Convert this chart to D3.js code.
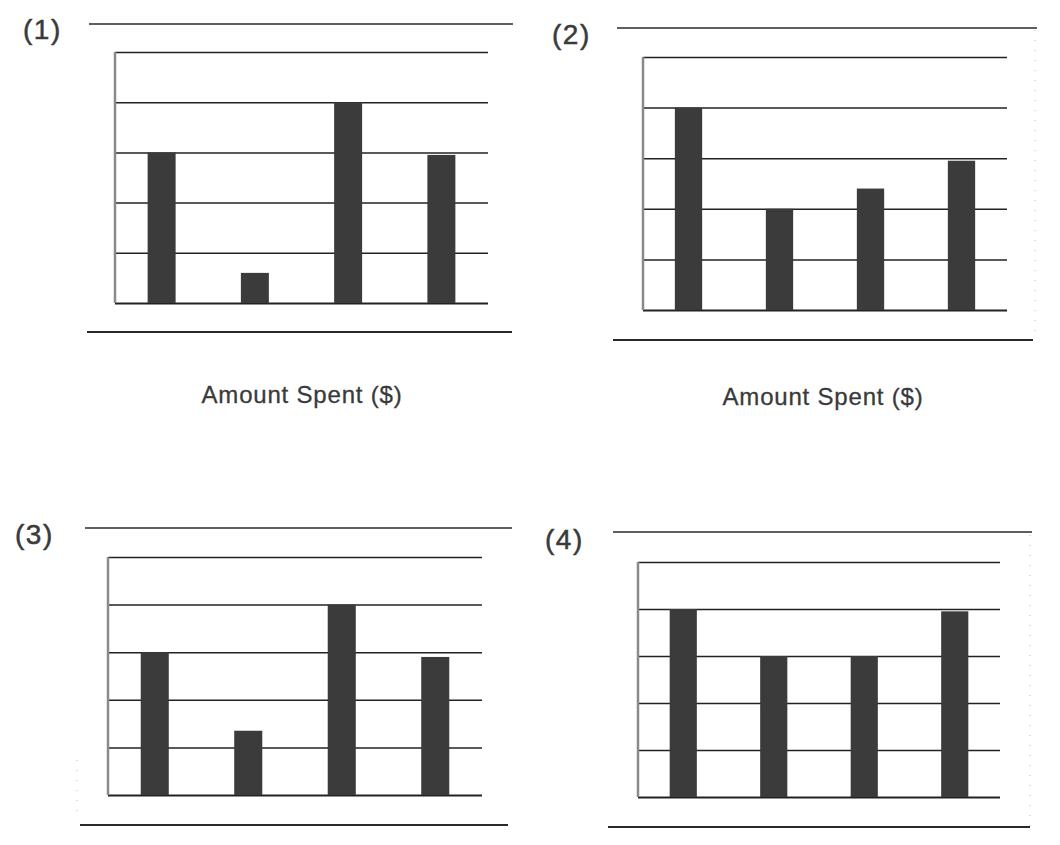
<!DOCTYPE html>
<html>
<head>
<meta charset="utf-8">
<script src="https://cdn.jsdelivr.net/npm/d3@7"></script>
<style>
  html, body { margin: 0; padding: 0; background: #fff; }
  svg { display: block; }
</style>
</head>
<body>
<svg id="chart"></svg>
<script>
const categories = ['A', 'B', 'C', 'D'];
const values1 = [3, 0.6, 4, 2.95];
const values2 = [4, 2, 2.4, 2.95];
const values3 = [3, 1.35, 4, 2.9];
const values4 = [4, 3, 3, 3.95];
const yTicks = [0, 1, 2, 3, 4, 5];
const panelLabels = ['(1)', '(2)', '(3)', '(4)'];
const axisTitle = 'Amount Spent ($)';

const W = 1060, H = 845;
const svg = d3.select('#chart').attr('width', W).attr('height', H);

// where each panel sits on the page
const layout = [
  { values: values1, label: [23, 39], top: [89, 513, 24], box: [115, 52, 488, 303], bottom: [87, 512, 332], title: [302, 403] },
  { values: values2, label: [552, 44], top: [617, 1037, 28], box: [643, 57, 1007, 310], bottom: [613, 1033, 340], title: [823, 405], edge: [1035, 30, 340] },
  { values: values3, label: [15, 544], top: [85, 512, 528], box: [108, 557, 482, 795], bottom: [80, 508, 825], edge: [77, 760, 820] },
  { values: values4, label: [545, 549], top: [613, 1032, 532], box: [638, 562, 1000, 797], bottom: [608, 1030, 827], edge: [1030, 535, 830] }
];

layout.forEach((p, i) => {
  const g = svg.append('g');
  const [x0, y0, x1, y1] = p.box;

  const x = d3.scaleBand()
    .domain(categories)
    .range([x0, x1])
    .paddingInner(0.7)
    .paddingOuter(0.35);

  const y = d3.scaleLinear()
    .domain([0, 5])
    .range([y1, y0]);

  g.append('text')
    .attr('x', p.label[0])
    .attr('y', p.label[1])
    .attr('font-family', 'Liberation Sans, Arial, sans-serif')
    .attr('font-size', 28)
    .attr('letter-spacing', 1.5)
    .attr('fill', '#3a3a3a')
    .attr('stroke', '#3a3a3a')
    .attr('stroke-width', 0.5)
    .text(panelLabels[i]);

  g.append('line')
    .attr('x1', p.top[0]).attr('x2', p.top[1])
    .attr('y1', p.top[2]).attr('y2', p.top[2])
    .attr('stroke', '#2a2a2a').attr('stroke-width', 1.6);

  g.append('line')
    .attr('x1', p.bottom[0]).attr('x2', p.bottom[1])
    .attr('y1', p.bottom[2]).attr('y2', p.bottom[2])
    .attr('stroke', '#2a2a2a').attr('stroke-width', 1.8);

  // gridlines
  const grid = g.append('g')
    .attr('transform', `translate(${x0},0)`)
    .call(d3.axisLeft(y).tickValues(yTicks).tickSize(-(x1 - x0)).tickFormat(''));
  grid.select('.domain').remove();
  grid.selectAll('.tick line')
    .attr('stroke', '#222')
    .attr('stroke-width', (d) => d === 0 ? 2 : 1.5);

  // left axis
  g.append('line')
    .attr('x1', x0).attr('x2', x0)
    .attr('y1', y(5)).attr('y2', y(0))
    .attr('stroke', '#8a8a8a').attr('stroke-width', 2.5);

  g.selectAll('rect.bar')
    .data(p.values)
    .enter()
    .append('rect')
    .attr('class', 'bar')
    .attr('x', (d, j) => x(categories[j]))
    .attr('width', x.bandwidth())
    .attr('y', (d) => y(d))
    .attr('height', (d) => y(0) - y(d))
    .attr('fill', '#3b3b3b');

  if (p.edge) {
    g.append('line')
      .attr('x1', p.edge[0]).attr('x2', p.edge[0])
      .attr('y1', p.edge[1]).attr('y2', p.edge[2])
      .attr('stroke', '#bbb').attr('stroke-width', 1)
      .attr('stroke-dasharray', '1,9');
  }

  if (p.title) {
    g.append('text')
      .attr('x', p.title[0])
      .attr('y', p.title[1])
      .attr('text-anchor', 'middle')
      .attr('font-family', 'Liberation Sans, Arial, sans-serif')
      .attr('font-size', 24)
      .attr('letter-spacing', 0.8)
      .attr('fill', '#3a3a3a')
      .attr('stroke', '#3a3a3a')
      .attr('stroke-width', 0.3)
      .text(axisTitle);
  }
});
</script>
</body>
</html>
